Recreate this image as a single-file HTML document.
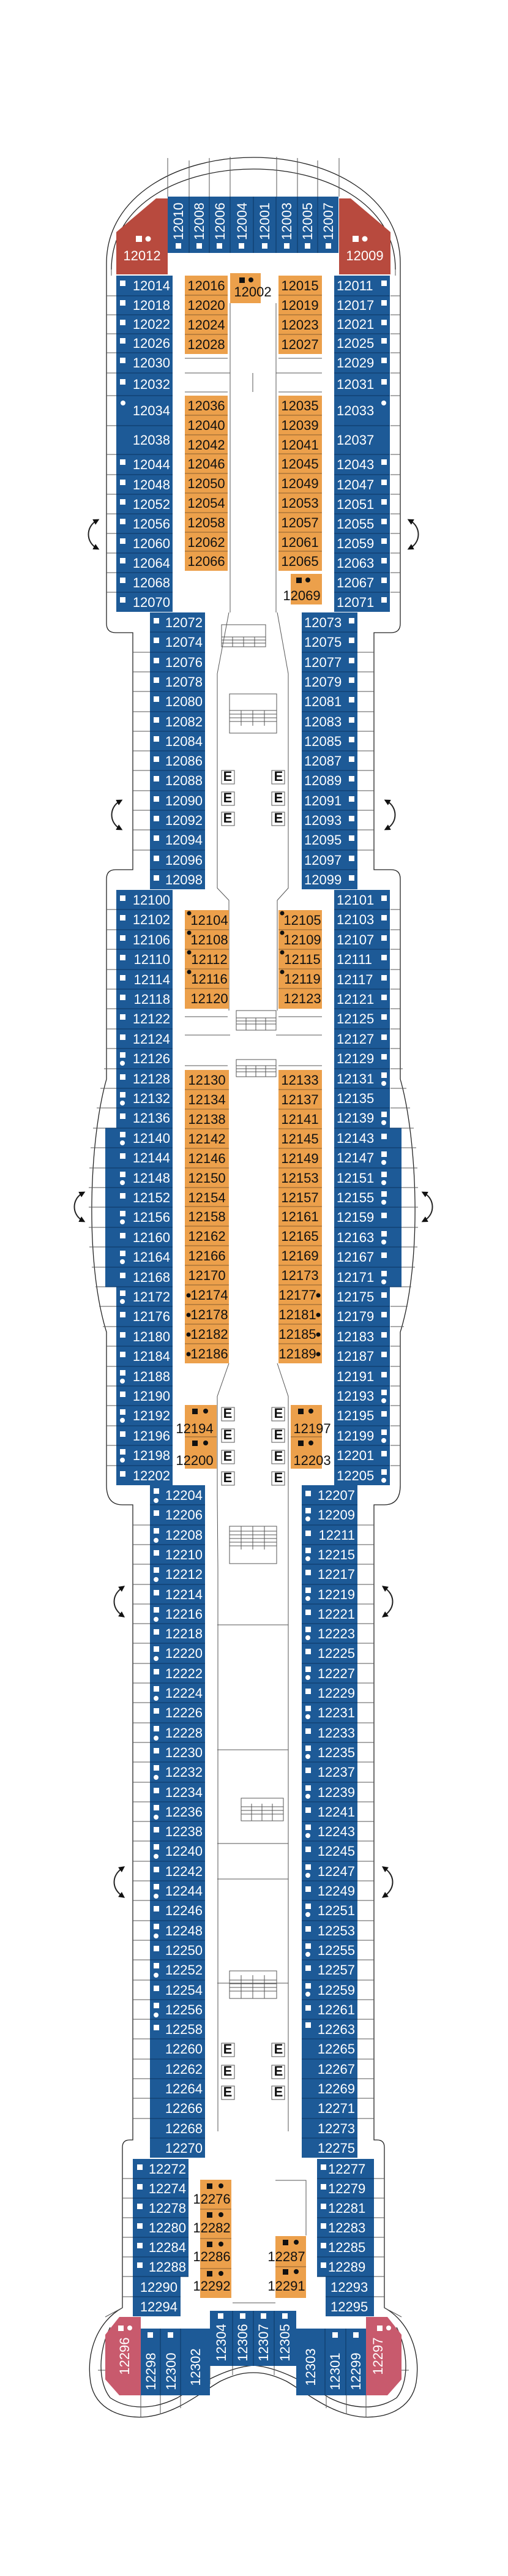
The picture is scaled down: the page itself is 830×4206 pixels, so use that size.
<!DOCTYPE html>
<html><head><meta charset="utf-8"><style>
html,body{margin:0;padding:0;background:#fff}
svg{display:block}
.b{fill:#1d5a97}
.o{fill:#eca04b}
.sep{stroke:#0f3c6c;stroke-width:1.2;fill:none}
.sepo{stroke:#8a6030;stroke-width:1;fill:none}
.hl{stroke:#222;stroke-width:1.3;fill:none}
.ln{stroke:#555;stroke-width:1;fill:none}
text{font-family:"Liberation Sans",sans-serif;font-size:22px}
.w{fill:#fff}
.k{fill:#111}
.wi{fill:#fff}
</style></head><body>
<svg width="830" height="4206" viewBox="0 0 830 4206" xmlns="http://www.w3.org/2000/svg">
<defs>
<marker id="ah" viewBox="0 0 10 10" refX="5" refY="5" markerWidth="5" markerHeight="5" orient="auto-start-reverse"><path d="M0,0L10,5L0,10z" fill="#111"/></marker>
<g id="half">
<path class="hl" d="M414,257 C290,257 174,320 174,430 L174,1018 Q174,1033 189,1033 L217,1033 L217,1420 L189,1420 Q174,1420 174,1435 L174,1762 C146,1860 138,2060 174,2175 L174,2425 Q174,2457 200,2457 L217,2457 L217,3494 L212,3494 Q200,3494 200,3506 L200,3768 C160,3790 140,3840 148,3890 C156,3935 200,3950 240,3946 C290,3940 330,3905 360,3888 C385,3876 400,3874 414,3874"/>
<path class="hl" d="M414,276 C300,276 182,330 182,440"/>
<path class="ln" d="M174,483H190M174,514H190M174,545H190M174,576H190M174,609H190M174,646H190M174,695H190M174,742H190M174,775H190M174,807H190M174,839H190M174,871H190M174,903H190M174,935H190M174,967H190
M217,1065H245M217,1097H245M217,1129H245M217,1162H245M217,1194H245M217,1226H245M217,1258H245M217,1291H245M217,1323H245M217,1355H245M217,1388H245
M174,1485H190M174,1518H190M174,1550H190M174,1583H190M174,1615H190M174,1647H190M174,1680H190M174,1712H190M170,1745H190M164,1777H190M158,1809H190M152,1842H172M148,1874H172M146,1907H172M145,1939H172M145,1971H172M145,2004H172M146,2036H172M150,2069H172M156,2101H190M162,2133H190M168,2166H190M174,2198H190M174,2231H190M174,2263H190M174,2295H190M174,2328H190M174,2360H190M174,2393H190
M217,2490H245M217,2522H245M217,2554H245M217,2587H245M217,2619H245M217,2651H245M217,2683H245M217,2716H245M217,2748H245M217,2780H245M217,2813H245M217,2845H245M217,2877H245M217,2910H245M217,2942H245M217,2974H245M217,3006H245M217,3039H245M217,3071H245M217,3103H245M217,3136H245M217,3168H245M217,3200H245M217,3233H245M217,3265H245M217,3297H245M217,3329H245M217,3362H245M217,3394H245M217,3426H245M217,3459H245
M200,3557H217M200,3589H217M200,3621H217M200,3653H217M200,3685H217M200,3717H217M200,3750H217"/>
<path class="ln" d="M274,258V321M309,262V321M342,258V321M376,256V321 M182,440V450 M160,3870H172 M172,3783L200,3768"/>
<path class="hl" d="M180,3800 C160,3840 160,3890 180,3915 C210,3935 250,3935 290,3915 C330,3890 370,3866 414,3862"/>
<path class="ln" d="M230,3911V3946M262,3911V3942M295,3911V3932M343,3863V3893M380,3863V3878"/>
<g class="hl" style="stroke-width:2">
<path marker-start="url(#ah)" marker-end="url(#ah)" d="M158,850 C140,860 140,885 158,895"/>
<path marker-start="url(#ah)" marker-end="url(#ah)" d="M196,1308 C178,1318 178,1343 196,1353"/>
<path marker-start="url(#ah)" marker-end="url(#ah)" d="M135,1948 C117,1958 117,1983 135,1993"/>
<path marker-start="url(#ah)" marker-end="url(#ah)" d="M200,2592 C182,2605 182,2625 200,2638"/>
<path marker-start="url(#ah)" marker-end="url(#ah)" d="M200,3050 C182,3063 182,3083 200,3096"/>
</g>
</g>
</defs>
<use href="#half"/>
<use href="#half" transform="translate(828,0) scale(-1,1)"/>

<!-- corridor lines -->
<path class="ln" d="M376,495V1000M451,495V1000M374,1000L355,1100V1450L374,1470V1650M453,1000L471,1100V1450L453,1470V1650
M302,585H372M455,585H526M302,609H376M451,609H526M302,640H372M455,640H526M413,609V640
M302,1660H372M455,1660H526M302,1690H376M451,1690H526M302,1740H372M455,1740H526
M374,2226L355,2280V2440L356,2560V3480M453,2226L471,2280V2440L471,2560V3480
M355,2653H471M355,2857H471M355,3010H471M355,3068H471M355,3238H471M346,3584H378M450,3560H500V3650M380,3760H450"/>
<!-- stairs -->
<g class="ln">
<rect x="362" y="1020" width="72" height="36"/><path d="M362,1040H434M380,1040V1056M398,1040V1056M416,1040V1056M362,1045H434M362,1050H434"/>
<rect x="375" y="1133" width="77" height="64"/><path d="M375,1160H452M375,1166H452M375,1172H452M375,1178H452M394,1160V1185M413,1160V1185M432,1160V1185"/>
<rect x="386" y="1650" width="65" height="32"/><path d="M386,1662H451M386,1667H451M386,1672H451M402,1662V1682M418,1662V1682M434,1662V1682"/>
<rect x="386" y="1730" width="65" height="28"/><path d="M386,1740H451M386,1745H451M386,1750H451M402,1740V1758M418,1740V1758M434,1740V1758"/>
<rect x="375" y="2492" width="77" height="61"/><path d="M375,2500H452M375,2506H452M375,2512H452M375,2518H452M375,2524H452M394,2492V2530M413,2492V2530M432,2492V2530"/>
<rect x="394" y="2936" width="69" height="37"/><path d="M394,2950H463M394,2956H463M394,2962H463M411,2945V2973M428,2945V2973M445,2945V2973"/>
<rect x="375" y="3218" width="77" height="45"/><path d="M375,3233H452M375,3239H452M375,3245H452M375,3251H452M394,3225V3263M413,3225V3263M432,3225V3263"/>
</g>
<!-- elevators -->
<g>
<g class="ln"><rect x="362" y="1258" width="21" height="22"/><rect x="362" y="1293" width="21" height="22"/><rect x="362" y="1326" width="21" height="22"/><rect x="444" y="1258" width="21" height="22"/><rect x="444" y="1293" width="21" height="22"/><rect x="444" y="1326" width="21" height="22"/>
<rect x="362" y="2298" width="21" height="22"/><rect x="362" y="2333" width="21" height="22"/><rect x="362" y="2368" width="21" height="22"/><rect x="362" y="2403" width="21" height="22"/><rect x="444" y="2298" width="21" height="22"/><rect x="444" y="2333" width="21" height="22"/><rect x="444" y="2368" width="21" height="22"/><rect x="444" y="2403" width="21" height="22"/>
<rect x="362" y="3336" width="21" height="22"/><rect x="362" y="3372" width="21" height="22"/><rect x="362" y="3406" width="21" height="22"/><rect x="444" y="3336" width="21" height="22"/><rect x="444" y="3372" width="21" height="22"/><rect x="444" y="3406" width="21" height="22"/></g>
<g class="k" style="font-size:15px;font-weight:bold" text-anchor="middle">
<text x="372" y="1275">E</text><text x="372" y="1310">E</text><text x="372" y="1343">E</text><text x="455" y="1275">E</text><text x="455" y="1310">E</text><text x="455" y="1343">E</text>
<text x="372" y="2315">E</text><text x="372" y="2350">E</text><text x="372" y="2385">E</text><text x="372" y="2420">E</text><text x="455" y="2315">E</text><text x="455" y="2350">E</text><text x="455" y="2385">E</text><text x="455" y="2420">E</text>
<text x="372" y="3353">E</text><text x="372" y="3389">E</text><text x="372" y="3423">E</text><text x="455" y="3353">E</text><text x="455" y="3389">E</text><text x="455" y="3423">E</text>
</g></g>

<!-- ===== FORWARD ===== -->
<rect class="b" x="274" y="321" width="279" height="92"/>
<path class="sep" d="M309,321V413M342,321V413M376,321V413M414,321V413M451,321V413M486,321V413M519,321V413"/>
<polygon points="190,379 255,324 274,324 274,448 190,448" fill="#b84a3e"/>
<polygon points="638,379 573,324 554,324 554,448 638,448" fill="#b84a3e"/>
<g class="wi"><rect x="222" y="385" width="10" height="10"/><circle cx="242" cy="390" r="4.5"/><rect x="576" y="385" width="10" height="10"/><circle cx="596" cy="390" r="4.5"/>
<rect x="287" y="397" width="9" height="9"/><rect x="321" y="397" width="9" height="9"/><rect x="354" y="397" width="9" height="9"/><rect x="390" y="397" width="9" height="9"/><rect x="428" y="397" width="9" height="9"/><rect x="464" y="397" width="9" height="9"/><rect x="498" y="397" width="9" height="9"/><rect x="532" y="397" width="9" height="9"/></g>
<text class="w" x="232" y="425" text-anchor="middle">12012</text>
<text class="w" x="596" y="425" text-anchor="middle">12009</text>
<g class="w" style="font-size:21px">
<text transform="translate(299,392) rotate(-90)">12010</text>
<text transform="translate(333,392) rotate(-90)">12008</text>
<text transform="translate(367,392) rotate(-90)">12006</text>
<text transform="translate(403,392) rotate(-90)">12004</text>
<text transform="translate(440,392) rotate(-90)">12001</text>
<text transform="translate(476,392) rotate(-90)">12003</text>
<text transform="translate(510,392) rotate(-90)">12005</text>
<text transform="translate(544,392) rotate(-90)">12007</text>
</g>

<!-- section 1 blue -->
<rect class="b" x="190" y="450" width="92" height="549"/>
<rect class="b" x="546" y="450" width="91" height="549"/>
<path class="sep" d="M190,483H282M190,514H282M190,545H282M190,576H282M190,609H282M190,646H282M190,695H282M190,742H282M190,775H282M190,807H282M190,839H282M190,871H282M190,903H282M190,935H282M190,967H282
M546,483H637M546,514H637M546,545H637M546,576H637M546,609H637M546,646H637M546,695H637M546,742H637M546,775H637M546,807H637M546,839H637M546,871H637M546,903H637M546,935H637M546,967H637"/>
<g class="w" text-anchor="end">
<text x="278" y="474">12014</text><text x="278" y="506">12018</text><text x="278" y="537">12022</text><text x="278" y="568">12026</text><text x="278" y="600">12030</text><text x="278" y="635">12032</text><text x="278" y="678">12034</text><text x="278" y="726">12038</text><text x="278" y="766">12044</text><text x="278" y="799">12048</text><text x="278" y="831">12052</text><text x="278" y="863">12056</text><text x="278" y="895">12060</text><text x="278" y="927">12064</text><text x="278" y="959">12068</text><text x="278" y="991">12070</text>
</g>
<g class="w">
<text x="550" y="474">12011</text><text x="550" y="506">12017</text><text x="550" y="537">12021</text><text x="550" y="568">12025</text><text x="550" y="600">12029</text><text x="550" y="635">12031</text><text x="550" y="678">12033</text><text x="550" y="726">12037</text><text x="550" y="766">12043</text><text x="550" y="799">12047</text><text x="550" y="831">12051</text><text x="550" y="863">12055</text><text x="550" y="895">12059</text><text x="550" y="927">12063</text><text x="550" y="959">12067</text><text x="550" y="991">12071</text>
</g>
<g class="wi">
<rect x="196" y="458" width="9" height="9"/><rect x="196" y="490" width="9" height="9"/><rect x="196" y="522" width="9" height="9"/><rect x="196" y="552" width="9" height="9"/><rect x="196" y="584" width="9" height="9"/><rect x="196" y="619" width="9" height="9"/><circle cx="201" cy="658" r="4"/><rect x="196" y="750" width="9" height="9"/><rect x="196" y="783" width="9" height="9"/><rect x="196" y="815" width="9" height="9"/><rect x="196" y="847" width="9" height="9"/><rect x="196" y="879" width="9" height="9"/><rect x="196" y="911" width="9" height="9"/><rect x="196" y="943" width="9" height="9"/><rect x="196" y="975" width="9" height="9"/>
<rect x="623" y="458" width="9" height="9"/><rect x="623" y="490" width="9" height="9"/><rect x="623" y="522" width="9" height="9"/><rect x="623" y="552" width="9" height="9"/><rect x="623" y="584" width="9" height="9"/><rect x="623" y="619" width="9" height="9"/><circle cx="627" cy="658" r="4"/><rect x="623" y="750" width="9" height="9"/><rect x="623" y="783" width="9" height="9"/><rect x="623" y="815" width="9" height="9"/><rect x="623" y="847" width="9" height="9"/><rect x="623" y="879" width="9" height="9"/><rect x="623" y="911" width="9" height="9"/><rect x="623" y="943" width="9" height="9"/><rect x="623" y="975" width="9" height="9"/>
</g>

<!-- section 1 orange -->
<rect class="o" x="302" y="450" width="70" height="128"/><rect class="o" x="455" y="450" width="71" height="128"/>
<rect class="o" x="376" y="446" width="50" height="49"/>
<rect class="o" x="302" y="646" width="70" height="286"/><rect class="o" x="455" y="646" width="71" height="286"/>
<rect class="o" x="475" y="937" width="51" height="50"/>
<path class="sepo" d="M302,482H372M302,514H372M302,546H372M455,482H526M455,514H526M455,546H526
M302,678H372M302,710H372M302,741H372M302,773H372M302,805H372M302,837H372M302,869H372M302,900H372
M455,678H526M455,710H526M455,741H526M455,773H526M455,805H526M455,837H526M455,869H526M455,900H526"/>
<g class="k" text-anchor="middle">
<text x="337" y="474">12016</text><text x="337" y="506">12020</text><text x="337" y="538">12024</text><text x="337" y="570">12028</text>
<text x="490" y="474">12015</text><text x="490" y="506">12019</text><text x="490" y="538">12023</text><text x="490" y="570">12027</text>
<text x="337" y="670">12036</text><text x="337" y="702">12040</text><text x="337" y="734">12042</text><text x="337" y="765">12046</text><text x="337" y="797">12050</text><text x="337" y="829">12054</text><text x="337" y="861">12058</text><text x="337" y="893">12062</text><text x="337" y="924">12066</text>
<text x="490" y="670">12035</text><text x="490" y="702">12039</text><text x="490" y="734">12041</text><text x="490" y="765">12045</text><text x="490" y="797">12049</text><text x="490" y="829">12053</text><text x="490" y="861">12057</text><text x="490" y="893">12061</text><text x="490" y="924">12065</text>
<text x="413" y="484">12002</text><text x="493" y="980">12069</text>
</g>
<g class="k"><rect x="391" y="453" width="9" height="9"/><circle cx="410" cy="457" r="4"/><rect x="484" y="943" width="9" height="9"/><circle cx="503" cy="947" r="4"/></g>

<!-- ===== SECTION 2 ===== -->
<rect class="b" x="245" y="1000" width="90" height="452"/>
<rect class="b" x="493" y="1000" width="91" height="452"/>
<path class="sep" d="M245,1032H335M245,1065H335M245,1097H335M245,1129H335M245,1162H335M245,1194H335M245,1226H335M245,1258H335M245,1291H335M245,1323H335M245,1355H335M245,1388H335M245,1420H335
M493,1032H584M493,1065H584M493,1097H584M493,1129H584M493,1162H584M493,1194H584M493,1226H584M493,1258H584M493,1291H584M493,1323H584M493,1355H584M493,1388H584M493,1420H584"/>
<g class="w" text-anchor="end">
<text x="331" y="1024">12072</text><text x="331" y="1056">12074</text><text x="331" y="1089">12076</text><text x="331" y="1121">12078</text><text x="331" y="1153">12080</text><text x="331" y="1186">12082</text><text x="331" y="1218">12084</text><text x="331" y="1250">12086</text><text x="331" y="1282">12088</text><text x="331" y="1315">12090</text><text x="331" y="1347">12092</text><text x="331" y="1379">12094</text><text x="331" y="1412">12096</text><text x="331" y="1444">12098</text>
</g>
<g class="w">
<text x="497" y="1024">12073</text><text x="497" y="1056">12075</text><text x="497" y="1089">12077</text><text x="497" y="1121">12079</text><text x="497" y="1153">12081</text><text x="497" y="1186">12083</text><text x="497" y="1218">12085</text><text x="497" y="1250">12087</text><text x="497" y="1282">12089</text><text x="497" y="1315">12091</text><text x="497" y="1347">12093</text><text x="497" y="1379">12095</text><text x="497" y="1412">12097</text><text x="497" y="1444">12099</text>
</g>
<g class="wi">
<rect x="251" y="1009" width="9" height="9"/><rect x="251" y="1041" width="9" height="9"/><rect x="251" y="1074" width="9" height="9"/><rect x="251" y="1106" width="9" height="9"/><rect x="251" y="1137" width="9" height="9"/><rect x="251" y="1171" width="9" height="9"/><rect x="251" y="1202" width="9" height="9"/><rect x="251" y="1235" width="9" height="9"/><rect x="251" y="1267" width="9" height="9"/><rect x="251" y="1300" width="9" height="9"/><rect x="251" y="1332" width="9" height="9"/><rect x="251" y="1364" width="9" height="9"/><rect x="251" y="1397" width="9" height="9"/><rect x="251" y="1429" width="9" height="9"/>
<rect x="570" y="1009" width="9" height="9"/><rect x="570" y="1041" width="9" height="9"/><rect x="570" y="1074" width="9" height="9"/><rect x="570" y="1106" width="9" height="9"/><rect x="570" y="1138" width="9" height="9"/><rect x="570" y="1171" width="9" height="9"/><rect x="570" y="1203" width="9" height="9"/><rect x="570" y="1235" width="9" height="9"/><rect x="570" y="1267" width="9" height="9"/><rect x="570" y="1300" width="9" height="9"/><rect x="570" y="1332" width="9" height="9"/><rect x="570" y="1364" width="9" height="9"/><rect x="570" y="1397" width="9" height="9"/><rect x="570" y="1429" width="9" height="9"/>
</g>

<!-- ===== SECTION 3 ===== -->
<rect class="b" x="190" y="1453" width="92" height="972"/>
<rect class="b" x="172" y="1842" width="20" height="259"/>
<rect class="b" x="546" y="1453" width="91" height="972"/>
<rect class="b" x="636" y="1842" width="20" height="259"/>
<path class="sep" d="M190,1485H282M190,1518H282M190,1550H282M190,1583H282M190,1615H282M190,1647H282M190,1680H282M190,1712H282M190,1745H282M190,1777H282M190,1809H282M172,1842H282M172,1874H282M172,1907H282M172,1939H282M172,1971H282M172,2004H282M172,2036H282M172,2069H282M172,2101H282M190,2133H282M190,2166H282M190,2198H282M190,2231H282M190,2263H282M190,2295H282M190,2328H282M190,2360H282M190,2393H282
M546,1485H637M546,1518H637M546,1550H637M546,1583H637M546,1615H637M546,1647H637M546,1680H637M546,1712H637M546,1745H637M546,1777H637M546,1809H637M546,1842H656M546,1874H656M546,1907H656M546,1939H656M546,1971H656M546,2004H656M546,2036H656M546,2069H656M546,2101H656M546,2133H637M546,2166H637M546,2198H637M546,2231H637M546,2263H637M546,2295H637M546,2328H637M546,2360H637M546,2393H637"/>
<g class="w" text-anchor="end">
<text x="278" y="1477">12100</text><text x="278" y="1509">12102</text><text x="278" y="1542">12106</text><text x="278" y="1574">12110</text><text x="278" y="1607">12114</text><text x="278" y="1639">12118</text><text x="278" y="1671">12122</text><text x="278" y="1704">12124</text><text x="278" y="1736">12126</text><text x="278" y="1769">12128</text><text x="278" y="1801">12132</text><text x="278" y="1833">12136</text><text x="278" y="1866">12140</text><text x="278" y="1898">12144</text><text x="278" y="1931">12148</text><text x="278" y="1963">12152</text><text x="278" y="1995">12156</text><text x="278" y="2028">12160</text><text x="278" y="2060">12164</text><text x="278" y="2093">12168</text><text x="278" y="2125">12172</text><text x="278" y="2157">12176</text><text x="278" y="2190">12180</text><text x="278" y="2222">12184</text><text x="278" y="2255">12188</text><text x="278" y="2287">12190</text><text x="278" y="2319">12192</text><text x="278" y="2352">12196</text><text x="278" y="2384">12198</text><text x="278" y="2417">12202</text>
</g>
<g class="w">
<text x="550" y="1477">12101</text><text x="550" y="1509">12103</text><text x="550" y="1542">12107</text><text x="550" y="1574">12111</text><text x="550" y="1607">12117</text><text x="550" y="1639">12121</text><text x="550" y="1671">12125</text><text x="550" y="1704">12127</text><text x="550" y="1736">12129</text><text x="550" y="1769">12131</text><text x="550" y="1801">12135</text><text x="550" y="1833">12139</text><text x="550" y="1866">12143</text><text x="550" y="1898">12147</text><text x="550" y="1931">12151</text><text x="550" y="1963">12155</text><text x="550" y="1995">12159</text><text x="550" y="2028">12163</text><text x="550" y="2060">12167</text><text x="550" y="2093">12171</text><text x="550" y="2125">12175</text><text x="550" y="2157">12179</text><text x="550" y="2190">12183</text><text x="550" y="2222">12187</text><text x="550" y="2255">12191</text><text x="550" y="2287">12193</text><text x="550" y="2319">12195</text><text x="550" y="2352">12199</text><text x="550" y="2384">12201</text><text x="550" y="2417">12205</text>
</g>
<g class="wi">
<rect x="196" y="1462" width="9" height="9"/><rect x="196" y="1494" width="9" height="9"/><rect x="196" y="1527" width="9" height="9"/><rect x="196" y="1559" width="9" height="9"/><rect x="196" y="1592" width="9" height="9"/><rect x="196" y="1624" width="9" height="9"/><rect x="196" y="1656" width="9" height="9"/><rect x="196" y="1689" width="9" height="9"/><rect x="196" y="1718" width="9" height="9"/><circle cx="200" cy="1736" r="4"/><rect x="196" y="1754" width="9" height="9"/><rect x="196" y="1783" width="9" height="9"/><circle cx="200" cy="1801" r="4"/><rect x="196" y="1818" width="9" height="9"/><rect x="196" y="1848" width="9" height="9"/><circle cx="200" cy="1866" r="4"/><rect x="196" y="1883" width="9" height="9"/><rect x="196" y="1913" width="9" height="9"/><circle cx="200" cy="1931" r="4"/><rect x="196" y="1948" width="9" height="9"/><rect x="196" y="1977" width="9" height="9"/><circle cx="200" cy="1995" r="4"/><rect x="196" y="2013" width="9" height="9"/><rect x="196" y="2042" width="9" height="9"/><circle cx="200" cy="2060" r="4"/><rect x="196" y="2078" width="9" height="9"/><rect x="196" y="2107" width="9" height="9"/><circle cx="200" cy="2125" r="4"/><rect x="196" y="2142" width="9" height="9"/><rect x="196" y="2175" width="9" height="9"/><rect x="196" y="2207" width="9" height="9"/><rect x="196" y="2237" width="9" height="9"/><circle cx="200" cy="2255" r="4"/><rect x="196" y="2272" width="9" height="9"/><rect x="196" y="2301" width="9" height="9"/><circle cx="200" cy="2319" r="4"/><rect x="196" y="2337" width="9" height="9"/><rect x="196" y="2366" width="9" height="9"/><circle cx="200" cy="2384" r="4"/><rect x="196" y="2402" width="9" height="9"/>
<rect x="623" y="1462" width="9" height="9"/><rect x="623" y="1494" width="9" height="9"/><rect x="623" y="1527" width="9" height="9"/><rect x="623" y="1559" width="9" height="9"/><rect x="623" y="1592" width="9" height="9"/><rect x="623" y="1624" width="9" height="9"/><rect x="623" y="1656" width="9" height="9"/><rect x="623" y="1689" width="9" height="9"/><rect x="623" y="1721" width="9" height="9"/><rect x="623" y="1751" width="9" height="9"/><circle cx="627" cy="1769" r="4"/><rect x="623" y="1815" width="9" height="9"/><circle cx="627" cy="1833" r="4"/><rect x="623" y="1851" width="9" height="9"/><rect x="623" y="1880" width="9" height="9"/><circle cx="627" cy="1898" r="4"/><rect x="623" y="1913" width="9" height="9"/><circle cx="627" cy="1931" r="4"/><rect x="623" y="1945" width="9" height="9"/><circle cx="627" cy="1963" r="4"/><rect x="623" y="1980" width="9" height="9"/><rect x="623" y="2010" width="9" height="9"/><circle cx="627" cy="2028" r="4"/><rect x="623" y="2045" width="9" height="9"/><rect x="623" y="2075" width="9" height="9"/><circle cx="627" cy="2093" r="4"/><rect x="623" y="2110" width="9" height="9"/><rect x="623" y="2142" width="9" height="9"/><rect x="623" y="2175" width="9" height="9"/><rect x="623" y="2207" width="9" height="9"/><rect x="623" y="2240" width="9" height="9"/><rect x="623" y="2269" width="9" height="9"/><circle cx="627" cy="2287" r="4"/><rect x="623" y="2304" width="9" height="9"/><rect x="623" y="2334" width="9" height="9"/><circle cx="627" cy="2352" r="4"/><rect x="623" y="2369" width="9" height="9"/><rect x="623" y="2399" width="9" height="9"/><circle cx="627" cy="2417" r="4"/>
</g>
<!-- section 3 orange -->
<rect class="o" x="302" y="1486" width="72" height="161"/><rect class="o" x="455" y="1486" width="71" height="161"/>
<rect class="o" x="302" y="1747" width="72" height="479"/><rect class="o" x="455" y="1747" width="71" height="479"/>
<rect class="o" x="302" y="2294" width="52" height="104"/><rect class="o" x="475" y="2294" width="51" height="104"/>
<path class="sepo" d="M302,1518H374M302,1550H374M302,1582H374M302,1614H374M455,1518H526M455,1550H526M455,1582H526M455,1614H526
M302,1779H374M302,1811H374M302,1843H374M302,1875H374M302,1907H374M302,1939H374M302,1970H374M302,2002H374M302,2034H374M302,2066H374M302,2098H374M302,2130H374M302,2162H374M302,2194H374
M455,1779H526M455,1811H526M455,1843H526M455,1875H526M455,1907H526M455,1939H526M455,1970H526M455,2002H526M455,2034H526M455,2066H526M455,2098H526M455,2130H526M455,2162H526M455,2194H526
M302,2346H354M475,2346H526"/>
<g class="k" text-anchor="middle">
<text x="342" y="1510">12104</text><text x="342" y="1542">12108</text><text x="342" y="1574">12112</text><text x="342" y="1606">12116</text><text x="342" y="1638">12120</text>
<text x="494" y="1510">12105</text><text x="494" y="1542">12109</text><text x="494" y="1574">12115</text><text x="494" y="1606">12119</text><text x="494" y="1638">12123</text>
<text x="338" y="1771">12130</text><text x="338" y="1803">12134</text><text x="338" y="1835">12138</text><text x="338" y="1867">12142</text><text x="338" y="1899">12146</text><text x="338" y="1931">12150</text><text x="338" y="1963">12154</text><text x="338" y="1994">12158</text><text x="338" y="2026">12162</text><text x="338" y="2058">12166</text><text x="338" y="2090">12170</text><text x="342" y="2122">12174</text><text x="342" y="2154">12178</text><text x="342" y="2186">12182</text><text x="342" y="2218">12186</text>
<text x="490" y="1771">12133</text><text x="490" y="1803">12137</text><text x="490" y="1835">12141</text><text x="490" y="1867">12145</text><text x="490" y="1899">12149</text><text x="490" y="1931">12153</text><text x="490" y="1963">12157</text><text x="490" y="1994">12161</text><text x="490" y="2026">12165</text><text x="490" y="2058">12169</text><text x="490" y="2090">12173</text><text x="486" y="2122">12177</text><text x="486" y="2154">12181</text><text x="486" y="2186">12185</text><text x="486" y="2218">12189</text>
<text x="318" y="2340">12194</text><text x="318" y="2392">12200</text><text x="510" y="2340">12197</text><text x="510" y="2392">12203</text>
</g>
<g class="k">
<circle cx="309" cy="1491" r="3.5"/><circle cx="309" cy="1523" r="3.5"/><circle cx="309" cy="1555" r="3.5"/><circle cx="309" cy="1587" r="3.5"/>
<circle cx="461" cy="1491" r="3.5"/><circle cx="461" cy="1523" r="3.5"/><circle cx="461" cy="1555" r="3.5"/><circle cx="461" cy="1587" r="3.5"/>
<circle cx="308" cy="2115" r="3.5"/><circle cx="308" cy="2147" r="3.5"/><circle cx="308" cy="2179" r="3.5"/><circle cx="308" cy="2211" r="3.5"/>
<circle cx="520" cy="2115" r="3.5"/><circle cx="520" cy="2147" r="3.5"/><circle cx="520" cy="2179" r="3.5"/><circle cx="520" cy="2211" r="3.5"/>
<rect x="314" y="2300" width="9" height="9"/><circle cx="336" cy="2304" r="4"/><rect x="314" y="2352" width="9" height="9"/><circle cx="336" cy="2356" r="4"/>
<rect x="487" y="2300" width="9" height="9"/><circle cx="508" cy="2304" r="4"/><rect x="487" y="2352" width="9" height="9"/><circle cx="508" cy="2356" r="4"/>
</g>

<!-- ===== SECTION 4 ===== -->
<rect class="b" x="245" y="2425" width="90" height="1098"/>
<rect class="b" x="493" y="2425" width="91" height="1098"/>
<path class="sep" d="M245,2457H335M245,2490H335M245,2522H335M245,2554H335M245,2587H335M245,2619H335M245,2651H335M245,2683H335M245,2716H335M245,2748H335M245,2780H335M245,2813H335M245,2845H335M245,2877H335M245,2910H335M245,2942H335M245,2974H335M245,3006H335M245,3039H335M245,3071H335M245,3103H335M245,3136H335M245,3168H335M245,3200H335M245,3233H335M245,3265H335M245,3297H335M245,3329H335M245,3362H335M245,3394H335M245,3426H335M245,3459H335M245,3491H335
M493,2457H584M493,2490H584M493,2522H584M493,2554H584M493,2587H584M493,2619H584M493,2651H584M493,2683H584M493,2716H584M493,2748H584M493,2780H584M493,2813H584M493,2845H584M493,2877H584M493,2910H584M493,2942H584M493,2974H584M493,3006H584M493,3039H584M493,3071H584M493,3103H584M493,3136H584M493,3168H584M493,3200H584M493,3233H584M493,3265H584M493,3297H584M493,3329H584M493,3362H584M493,3394H584M493,3426H584M493,3459H584M493,3491H584"/>
<g class="w" text-anchor="end">
<text x="331" y="2449">12204</text><text x="331" y="2481">12206</text><text x="331" y="2514">12208</text><text x="331" y="2546">12210</text><text x="331" y="2578">12212</text><text x="331" y="2611">12214</text><text x="331" y="2643">12216</text><text x="331" y="2675">12218</text><text x="331" y="2707">12220</text><text x="331" y="2740">12222</text><text x="331" y="2772">12224</text><text x="331" y="2804">12226</text><text x="331" y="2837">12228</text><text x="331" y="2869">12230</text><text x="331" y="2901">12232</text><text x="331" y="2934">12234</text><text x="331" y="2966">12236</text><text x="331" y="2998">12238</text><text x="331" y="3030">12240</text><text x="331" y="3063">12242</text><text x="331" y="3095">12244</text><text x="331" y="3127">12246</text><text x="331" y="3160">12248</text><text x="331" y="3192">12250</text><text x="331" y="3224">12252</text><text x="331" y="3257">12254</text><text x="331" y="3289">12256</text><text x="331" y="3321">12258</text><text x="331" y="3353">12260</text><text x="331" y="3386">12262</text><text x="331" y="3418">12264</text><text x="331" y="3450">12266</text><text x="331" y="3483">12268</text><text x="331" y="3515">12270</text>
</g>
<g class="w" text-anchor="end">
<text x="580" y="2449">12207</text><text x="580" y="2481">12209</text><text x="580" y="2514">12211</text><text x="580" y="2546">12215</text><text x="580" y="2578">12217</text><text x="580" y="2611">12219</text><text x="580" y="2643">12221</text><text x="580" y="2675">12223</text><text x="580" y="2707">12225</text><text x="580" y="2740">12227</text><text x="580" y="2772">12229</text><text x="580" y="2804">12231</text><text x="580" y="2837">12233</text><text x="580" y="2869">12235</text><text x="580" y="2901">12237</text><text x="580" y="2934">12239</text><text x="580" y="2966">12241</text><text x="580" y="2998">12243</text><text x="580" y="3030">12245</text><text x="580" y="3063">12247</text><text x="580" y="3095">12249</text><text x="580" y="3127">12251</text><text x="580" y="3160">12253</text><text x="580" y="3192">12255</text><text x="580" y="3224">12257</text><text x="580" y="3257">12259</text><text x="580" y="3289">12261</text><text x="580" y="3321">12263</text><text x="580" y="3353">12265</text><text x="580" y="3386">12267</text><text x="580" y="3418">12269</text><text x="580" y="3450">12271</text><text x="580" y="3483">12273</text><text x="580" y="3515">12275</text>
</g>
<g class="wi">
<rect x="251" y="2430" width="9" height="9"/><rect x="251" y="2466" width="9" height="9"/><rect x="251" y="2495" width="9" height="9"/><rect x="251" y="2531" width="9" height="9"/><rect x="251" y="2559" width="9" height="9"/><rect x="251" y="2596" width="9" height="9"/><rect x="251" y="2624" width="9" height="9"/><rect x="251" y="2660" width="9" height="9"/><rect x="251" y="2688" width="9" height="9"/><rect x="251" y="2725" width="9" height="9"/><rect x="251" y="2753" width="9" height="9"/><rect x="251" y="2789" width="9" height="9"/><rect x="251" y="2818" width="9" height="9"/><rect x="251" y="2854" width="9" height="9"/><rect x="251" y="2882" width="9" height="9"/><rect x="251" y="2919" width="9" height="9"/><rect x="251" y="2947" width="9" height="9"/><rect x="251" y="2983" width="9" height="9"/><rect x="251" y="3011" width="9" height="9"/><rect x="251" y="3048" width="9" height="9"/><rect x="251" y="3076" width="9" height="9"/><rect x="251" y="3112" width="9" height="9"/><rect x="251" y="3141" width="9" height="9"/><rect x="251" y="3177" width="9" height="9"/><rect x="251" y="3205" width="9" height="9"/><rect x="251" y="3242" width="9" height="9"/><rect x="251" y="3270" width="9" height="9"/><rect x="251" y="3306" width="9" height="9"/>
<circle cx="255" cy="2450" r="4"/><circle cx="255" cy="2515" r="4"/><circle cx="255" cy="2579" r="4"/><circle cx="255" cy="2644" r="4"/><circle cx="255" cy="2708" r="4"/><circle cx="255" cy="2773" r="4"/><circle cx="255" cy="2838" r="4"/><circle cx="255" cy="2902" r="4"/><circle cx="255" cy="2967" r="4"/><circle cx="255" cy="3031" r="4"/><circle cx="255" cy="3096" r="4"/><circle cx="255" cy="3161" r="4"/><circle cx="255" cy="3225" r="4"/><circle cx="255" cy="3290" r="4"/>
<rect x="499" y="2434" width="9" height="9"/><rect x="499" y="2462" width="9" height="9"/><rect x="499" y="2499" width="9" height="9"/><rect x="499" y="2527" width="9" height="9"/><rect x="499" y="2563" width="9" height="9"/><rect x="499" y="2592" width="9" height="9"/><rect x="499" y="2628" width="9" height="9"/><rect x="499" y="2656" width="9" height="9"/><rect x="499" y="2692" width="9" height="9"/><rect x="499" y="2721" width="9" height="9"/><rect x="499" y="2757" width="9" height="9"/><rect x="499" y="2785" width="9" height="9"/><rect x="499" y="2822" width="9" height="9"/><rect x="499" y="2850" width="9" height="9"/><rect x="499" y="2886" width="9" height="9"/><rect x="499" y="2915" width="9" height="9"/><rect x="499" y="2951" width="9" height="9"/><rect x="499" y="2979" width="9" height="9"/><rect x="499" y="3015" width="9" height="9"/><rect x="499" y="3044" width="9" height="9"/><rect x="499" y="3080" width="9" height="9"/><rect x="499" y="3108" width="9" height="9"/><rect x="499" y="3145" width="9" height="9"/><rect x="499" y="3173" width="9" height="9"/><rect x="499" y="3209" width="9" height="9"/><rect x="499" y="3238" width="9" height="9"/><rect x="499" y="3274" width="9" height="9"/><rect x="499" y="3302" width="9" height="9"/>
<circle cx="503" cy="2480" r="4"/><circle cx="503" cy="2545" r="4"/><circle cx="503" cy="2610" r="4"/><circle cx="503" cy="2674" r="4"/><circle cx="503" cy="2739" r="4"/><circle cx="503" cy="2803" r="4"/><circle cx="503" cy="2868" r="4"/><circle cx="503" cy="2933" r="4"/><circle cx="503" cy="2997" r="4"/><circle cx="503" cy="3062" r="4"/><circle cx="503" cy="3126" r="4"/><circle cx="503" cy="3191" r="4"/><circle cx="503" cy="3256" r="4"/>
</g>

<!-- ===== SECTION 5 ===== -->
<rect class="b" x="217" y="3525" width="91" height="192"/>
<rect class="b" x="217" y="3717" width="78" height="65"/>
<rect class="b" x="518" y="3525" width="93" height="192"/>
<rect class="b" x="532" y="3717" width="79" height="65"/>
<path class="sep" d="M217,3557H308M217,3589H308M217,3621H308M217,3653H308M217,3685H308M217,3717H308M217,3750H295
M518,3557H611M518,3589H611M518,3621H611M518,3653H611M518,3685H611M518,3717H611M532,3750H611"/>
<g class="w" text-anchor="end">
<text x="304" y="3549">12272</text><text x="304" y="3581">12274</text><text x="304" y="3613">12278</text><text x="304" y="3645">12280</text><text x="304" y="3677">12284</text><text x="304" y="3709">12288</text><text x="290" y="3742">12290</text><text x="290" y="3774">12294</text>
</g>
<g class="w">
<text x="536" y="3549">12277</text><text x="536" y="3581">12279</text><text x="536" y="3613">12281</text><text x="536" y="3645">12283</text><text x="536" y="3677">12285</text><text x="536" y="3709">12289</text><text x="540" y="3742">12293</text><text x="540" y="3774">12295</text>
</g>
<g class="wi">
<rect x="224" y="3534" width="9" height="9"/><rect x="224" y="3566" width="9" height="9"/><rect x="224" y="3598" width="9" height="9"/><rect x="224" y="3630" width="9" height="9"/><rect x="224" y="3662" width="9" height="9"/><rect x="224" y="3694" width="9" height="9"/>
<rect x="524" y="3534" width="9" height="9"/><rect x="524" y="3566" width="9" height="9"/><rect x="524" y="3598" width="9" height="9"/><rect x="524" y="3630" width="9" height="9"/><rect x="524" y="3662" width="9" height="9"/><rect x="524" y="3694" width="9" height="9"/>
</g>
<rect class="o" x="327" y="3559" width="51" height="193"/>
<rect class="o" x="450" y="3651" width="50" height="101"/>
<path class="sepo" d="M327,3607H378M327,3655H378M327,3704H378M450,3701H500"/>
<g class="k" text-anchor="middle">
<text x="346" y="3598">12276</text><text x="346" y="3645">12282</text><text x="346" y="3692">12286</text><text x="346" y="3740">12292</text>
<text x="468" y="3692">12287</text><text x="468" y="3740">12291</text>
</g>
<g class="k">
<rect x="338" y="3565" width="9" height="9"/><circle cx="361" cy="3569" r="4"/><rect x="338" y="3612" width="9" height="9"/><circle cx="361" cy="3616" r="4"/><rect x="338" y="3660" width="9" height="9"/><circle cx="361" cy="3664" r="4"/><rect x="338" y="3708" width="9" height="9"/><circle cx="361" cy="3712" r="4"/>
<rect x="462" y="3657" width="9" height="9"/><circle cx="484" cy="3661" r="4"/><rect x="462" y="3705" width="9" height="9"/><circle cx="484" cy="3709" r="4"/>
</g>

<!-- stern -->
<polygon points="172,3812 195,3783 230,3783 230,3911 195,3911 172,3885" fill="#c85a6d"/>
<polygon points="656,3812 633,3783 598,3783 598,3911 633,3911 656,3885" fill="#c85a6d"/>
<rect class="b" x="230" y="3802" width="113" height="109"/>
<rect class="b" x="343" y="3773" width="141" height="90"/>
<rect class="b" x="484" y="3802" width="114" height="109"/>
<path class="sep" d="M262,3802V3911M295,3802V3911M380,3773V3863M414,3773V3863M448,3773V3863M531,3802V3911M565,3802V3911"/>
<g class="wi">
<rect x="193" y="3797" width="9" height="9"/><circle cx="212" cy="3801" r="4"/><rect x="616" y="3797" width="9" height="9"/><circle cx="635" cy="3801" r="4"/>
<rect x="241" y="3808" width="9" height="9"/><rect x="274" y="3808" width="9" height="9"/><rect x="356" y="3777" width="9" height="9"/><rect x="392" y="3777" width="9" height="9"/><rect x="426" y="3777" width="9" height="9"/><rect x="461" y="3777" width="9" height="9"/><rect x="543" y="3808" width="9" height="9"/><rect x="577" y="3808" width="9" height="9"/>
</g>
<g class="w" style="font-size:21px" text-anchor="middle">
<text transform="translate(211,3847) rotate(-90)">12296</text>
<text transform="translate(625,3847) rotate(-90)">12297</text>
<text transform="translate(254,3872) rotate(-90)">12298</text>
<text transform="translate(287,3872) rotate(-90)">12300</text>
<text transform="translate(327,3865) rotate(-90)">12302</text>
<text transform="translate(369,3825) rotate(-90)">12304</text>
<text transform="translate(404,3825) rotate(-90)">12306</text>
<text transform="translate(438,3825) rotate(-90)">12307</text>
<text transform="translate(473,3825) rotate(-90)">12305</text>
<text transform="translate(515,3865) rotate(-90)">12303</text>
<text transform="translate(555,3872) rotate(-90)">12301</text>
<text transform="translate(589,3872) rotate(-90)">12299</text>
</g>
</svg>
</body></html>
